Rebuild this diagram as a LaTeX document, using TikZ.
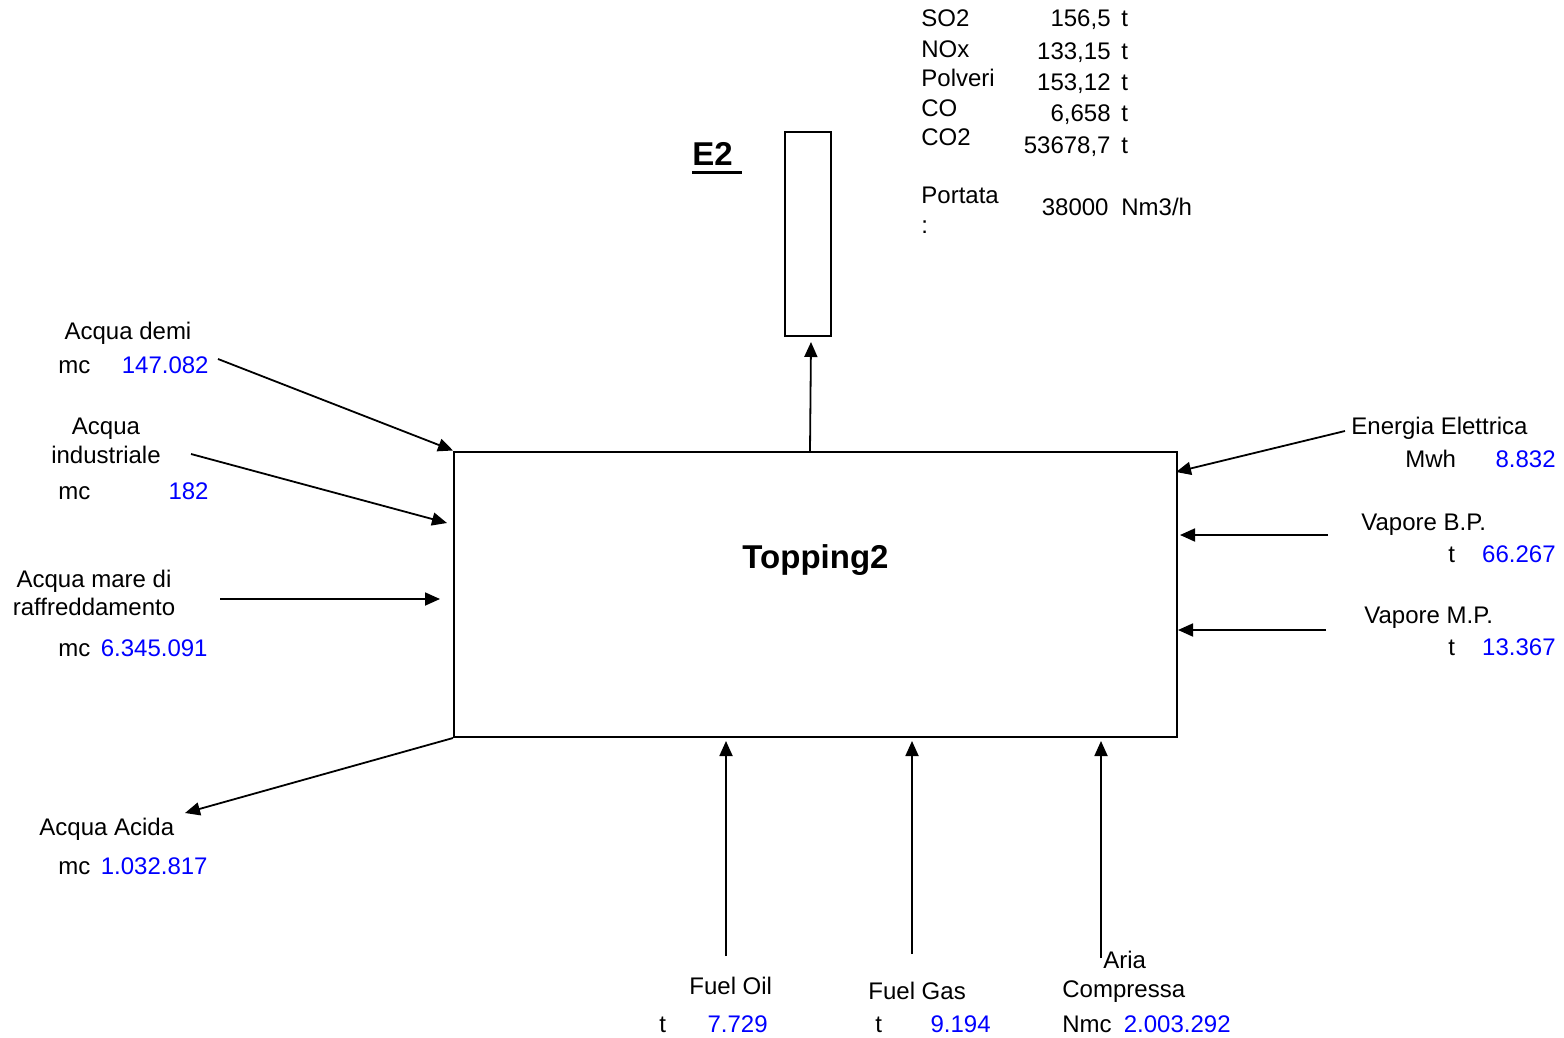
\documentclass[tikz,border=0pt]{standalone}
\usepackage{fontspec}
\setmainfont{Liberation Sans}
\usetikzlibrary{arrows.meta, positioning}
\newcommand{\thickul}[1]{\vtop{\hbox{#1}\kern2.6pt\hrule height 1.4pt}}

\begin{document}
\begin{tikzpicture}[
         x=0.5pt, y=-0.5pt,
         every node/.style={inner sep=0pt, font=\fontsize{12}{14}\selectfont},
         tag/.style={anchor=base west},
         ctag/.style={anchor=base},
         quantity/.style={anchor=base east, blue},
         title/.style={font=\fontsize{16.5}{19}\selectfont\bfseries},
         plant/.style={draw, line width=1pt, minimum width=361.5pt, minimum height=142.75pt},
         stack/.style={draw, line width=1pt, minimum width=23pt, minimum height=102pt},
         flow/.style={line width=0.9pt, -{Triangle[length=7.5pt,width=6.5pt]}}
      ]
         \useasboundingbox (0,0) rectangle (1564,1038);

         % Plant and stack
         \node[plant] (topping) at (815.5,594.25) {};
         \node[ctag, title] (name) at (815.5,568) {Topping2};
         \node[stack] (e2) at (808,233.7) {};
         \node[tag, title] (e2label) at (692,166) {\thickul{E2\ }};

         % Emissions at the stack
         \node[tag] (so2) at (921,27) {SO2};
         \node[tag] (nox) at (921,58) {NOx};
         \node[tag] (polv) at (921,87) {Polveri};
         \node[tag] (co) at (921,117) {CO};
         \node[tag] (co2) at (921,146) {CO2};
         \node[tag] (port) at (921,204) {Portata};
         \node[tag] (portb) at (921,234) {:};
         \node[anchor=base east] (so2v) at (1111,27) {156,5};
         \node[anchor=base east] (noxv) at (1111,60) {133,15};
         \node[anchor=base east] (polvv) at (1111,91) {153,12};
         \node[anchor=base east] (cov) at (1111,122) {6,658};
         \node[anchor=base east] (co2v) at (1111,154) {53678,7};
         \node[anchor=base east] (portv) at (1109,215) {38000};
         \node[tag] (so2u) at (1121,27) {t};
         \node[tag] (noxu) at (1121,60) {t};
         \node[tag] (polvu) at (1121,91) {t};
         \node[tag] (cou) at (1121,122) {t};
         \node[tag] (co2u) at (1121,154) {t};
         \node[tag] (portu) at (1121,215) {Nm3/h};

         % Inputs on the left
         \node[ctag] (demi) at (128,339) {Acqua demi};
         \node[tag] (demiu) at (58,373) {mc};
         \node[quantity] (demiv) at (209,373) {147.082};
         \node[ctag] (ind) at (106,434) {Acqua};
         \node[ctag] (indb) at (106,463) {industriale};
         \node[tag] (indu) at (58,499) {mc};
         \node[quantity] (indv) at (209,499) {182};
         \node[ctag] (mare) at (94,587) {Acqua mare di};
         \node[ctag] (mareb) at (94,615) {raffreddamento};
         \node[tag] (mareu) at (58,656) {mc};
         \node[quantity] (marev) at (208,656) {6.345.091};

         % Output on the left
         \node[tag] (acida) at (39,835) {Acqua Acida};
         \node[tag] (acidau) at (58,874) {mc};
         \node[quantity] (acidav) at (208,874) {1.032.817};

         % Inputs on the right
         \node[tag] (eel) at (1351,434) {Energia Elettrica};
         \node[tag] (eelu) at (1405,467) {Mwh};
         \node[quantity] (eelv) at (1556,467) {8.832};
         \node[tag] (vbp) at (1361,530) {Vapore B.P.};
         \node[tag] (vbpu) at (1448,562) {t};
         \node[quantity] (vbpv) at (1556,562) {66.267};
         \node[tag] (vmp) at (1364,623) {Vapore M.P.};
         \node[tag] (vmpu) at (1448,655) {t};
         \node[quantity] (vmpv) at (1556,655) {13.367};

         % Inputs from below
         \node[tag] (foil) at (689,994) {Fuel Oil};
         \node[tag] (foilu) at (659,1032) {t};
         \node[quantity] (foilv) at (768,1032) {7.729};
         \node[tag] (fgas) at (868,999) {Fuel Gas};
         \node[tag] (fgasu) at (875,1032) {t};
         \node[quantity] (fgasv) at (991,1032) {9.194};
         \node[tag] (aria) at (1103,968) {Aria};
         \node[tag] (ariab) at (1062,997) {Compressa};
         \node[tag] (ariau) at (1062,1032) {Nmc};
         \node[quantity] (ariav) at (1231,1032) {2.003.292};

         % Free ends of the flows
         \coordinate (demi0) at (218,359);
         \coordinate (ind0) at (191,454);
         \coordinate (ind1) at (447,523);
         \coordinate (mare0) at (220,599);
         \coordinate (mare1) at (440,599);
         \coordinate (acida1) at (185,813);
         \coordinate (eel0) at (1345,431);
         \coordinate (eel1) at (1176,472);
         \coordinate (vbp0) at (1328,535);
         \coordinate (vbp1) at (1180,535);
         \coordinate (vmp0) at (1326,630);
         \coordinate (vmp1) at (1178,630);
         \coordinate (foil0) at (726,956);
         \coordinate (foil1) at (726,741);
         \coordinate (fgas0) at (912,954);
         \coordinate (fgas1) at (912,741);
         \coordinate (aria0) at (1101,958);
         \coordinate (aria1) at (1101,741);
         \coordinate (fumi0) at (810,451);
         \coordinate (fumi1) at (811,342);

         % Flows
         \draw[flow] (demi0) -- (topping.north west);
         \draw[flow] (ind0) -- (ind1);
         \draw[flow] (mare0) -- (mare1);
         \draw[flow] (topping.south west) -- (acida1);
         \draw[flow] (eel0) -- (eel1);
         \draw[flow] (vbp0) -- (vbp1);
         \draw[flow] (vmp0) -- (vmp1);
         \draw[flow] (foil0) -- (foil1);
         \draw[flow] (fgas0) -- (fgas1);
         \draw[flow] (aria0) -- (aria1);
         \draw[flow] (fumi0) -- (fumi1);
      \end{tikzpicture}
\end{document}
